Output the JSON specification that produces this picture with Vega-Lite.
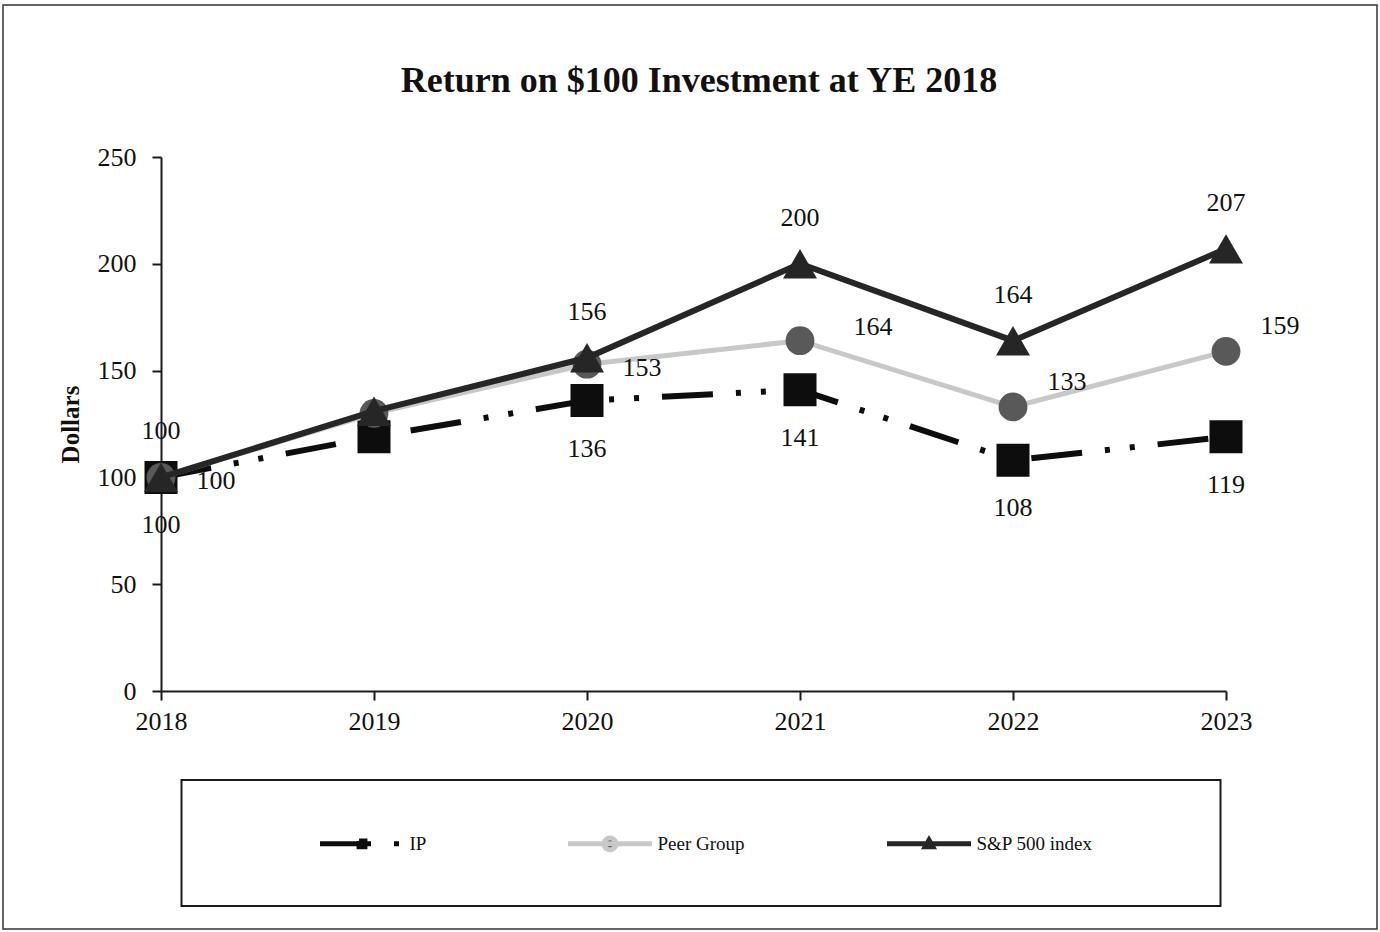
{
  "$schema": "https://vega.github.io/schema/vega-lite/v6.json",
  "width": 1374,
  "height": 924,
  "autosize": {"type": "none"},
  "padding": {"left": 3, "top": 5, "right": 3, "bottom": 3},
  "background": "white",
  "title": {
    "text": "Return on $100 Investment at YE 2018",
    "font": "Liberation Serif",
    "fontSize": 36,
    "fontWeight": "bold",
    "color": "#111111",
    "anchor": "middle",
    "frame": "group",
    "dx": 9,
    "offset": -123,
    "baseline": "alphabetic"
  },
  "config": {
    "view": {"stroke": "#333333", "strokeWidth": 1.5},
    "axis": {
      "grid": false,
      "domainColor": "#1a1a1a",
      "domainWidth": 2,
      "tickColor": "#1a1a1a",
      "tickWidth": 2,
      "tickSize": 9,
      "labelFont": "Liberation Serif",
      "labelFontSize": 26,
      "labelColor": "#111111"
    }
  },
  "data": {
    "values": [
      {"series": "IP", "year": 2018, "value": 100},
      {"series": "IP", "year": 2019, "value": 119},
      {"series": "IP", "year": 2020, "value": 136},
      {"series": "IP", "year": 2021, "value": 141},
      {"series": "IP", "year": 2022, "value": 108},
      {"series": "IP", "year": 2023, "value": 119},
      {"series": "Peer Group", "year": 2018, "value": 100},
      {"series": "Peer Group", "year": 2019, "value": 130},
      {"series": "Peer Group", "year": 2020, "value": 153},
      {"series": "Peer Group", "year": 2021, "value": 164},
      {"series": "Peer Group", "year": 2022, "value": 133},
      {"series": "Peer Group", "year": 2023, "value": 159},
      {"series": "S&P 500 index", "year": 2018, "value": 100},
      {"series": "S&P 500 index", "year": 2019, "value": 131},
      {"series": "S&P 500 index", "year": 2020, "value": 156},
      {"series": "S&P 500 index", "year": 2021, "value": 200},
      {"series": "S&P 500 index", "year": 2022, "value": 164},
      {"series": "S&P 500 index", "year": 2023, "value": 207}
    ]
  },
  "encoding": {
    "x": {
      "field": "year",
      "type": "ordinal",
      "scale": {"type": "point", "padding": 0, "range": [158, 1223]},
      "axis": {"orient": "bottom", "offset": -238, "title": null, "labelAngle": 0, "labelPadding": 8}
    },
    "y": {
      "field": "value",
      "type": "quantitative",
      "scale": {"domain": [0, 250], "range": [686, 152], "nice": false},
      "axis": {
        "orient": "left",
        "offset": -158,
        "values": [0, 50, 100, 150, 200, 250],
        "labelPadding": 16,
        "title": "Dollars",
        "titleFont": "Liberation Serif",
        "titleFontSize": 25,
        "titleFontWeight": "bold",
        "titleColor": "#111111",
        "titlePadding": 14
      }
    }
  },
  "layer": [
    {
      "transform": [{"filter": "datum.series == 'IP'"}],
      "mark": {"type": "line", "strokeWidth": 6, "strokeDash": [51, 23, 5, 20, 5, 23]},
      "encoding": {
        "stroke": {
          "field": "series",
          "type": "nominal",
          "scale": {"domain": ["IP", "Peer Group", "S&P 500 index"], "range": ["#0d0d0d", "#c8c8c8", "#262626"]},
          "legend": {
            "orient": "none",
            "legendX": 178.5,
            "legendY": 775,
            "direction": "horizontal",
            "title": null,
            "padding": 19,
            "strokeColor": "#1a1a1a",
            "columnPadding": 22,
            "labelFont": "Liberation Serif",
            "labelFontSize": 19,
            "labelColor": "#111111",
            "symbolOffset": 117,
            "labelOffset": 3,
            "symbolSize": 7056,
            "symbolStrokeWidth": 5,
            "encode": {
              "legend": {"update": {"strokeWidth": {"value": 2}}},
              "symbols": {
                "update": {
                  "shape": {"signal": "datum.value == 'IP' ? 'M0,0.78M-1,0L1,0M-0.07,-0.07L0.07,-0.07L0.07,0.07L-0.07,0.07Z' : datum.value == 'Peer Group' ? 'M0,0.78M-1,0L1,0M-0.14,0A0.14,0.14 0 1,0 0.14,0A0.14,0.14 0 1,0 -0.14,0Z' : 'M6.24,0M0,0.78M-1,0L1,0M0,-0.09L0.09,0.07L-0.09,0.07Z'"},
                  "fill": {"signal": "datum.value == 'Peer Group' ? '#4a4a4a' : '#111111'"},
                  "strokeDash": {"signal": "datum.value == 'IP' ? [51,23,5,20,5,23] : [1,0]"},
                  "strokeWidth": {"value": 5},
                  "opacity": {"value": 1}
                }
              }
            }
          }
        }
      }
    },
    {
      "transform": [{"filter": "datum.series == 'IP'"}],
      "mark": {"type": "point", "shape": "square", "filled": true, "size": 1089, "color": "#0d0d0d", "opacity": 1}
    },
    {
      "transform": [{"filter": "datum.series == 'Peer Group'"}],
      "mark": {"type": "line", "strokeWidth": 5},
      "encoding": {"stroke": {"field": "series", "type": "nominal"}}
    },
    {
      "transform": [{"filter": "datum.series == 'Peer Group'"}],
      "mark": {"type": "point", "shape": "circle", "filled": true, "size": 830, "color": "#595959", "opacity": 1}
    },
    {
      "transform": [{"filter": "datum.series == 'S&P 500 index'"}],
      "mark": {"type": "line", "strokeWidth": 6},
      "encoding": {"stroke": {"field": "series", "type": "nominal"}}
    },
    {
      "transform": [{"filter": "datum.series == 'S&P 500 index'"}],
      "mark": {"type": "point", "shape": "triangle-up", "filled": true, "size": 1156, "color": "#262626", "opacity": 1}
    },
    {
      "transform": [{"filter": "datum.series == 'IP' && datum.year != 2019"}],
      "mark": {"type": "text", "font": "Liberation Serif", "fontSize": 26, "color": "#111111", "align": "center", "baseline": "middle", "dy": 48},
      "encoding": {"text": {"field": "value", "type": "quantitative"}}
    },
    {
      "transform": [{"filter": "datum.series == 'S&P 500 index' && datum.year != 2019"}],
      "mark": {"type": "text", "font": "Liberation Serif", "fontSize": 26, "color": "#111111", "align": "center", "baseline": "middle", "dy": -46},
      "encoding": {"text": {"field": "value", "type": "quantitative"}}
    },
    {
      "transform": [{"filter": "datum.series == 'Peer Group' && (datum.year == 2018 || datum.year == 2020)"}],
      "mark": {"type": "text", "font": "Liberation Serif", "fontSize": 26, "color": "#111111", "align": "center", "baseline": "middle", "dx": 55, "dy": 4},
      "encoding": {"text": {"field": "value", "type": "quantitative"}}
    },
    {
      "transform": [{"filter": "datum.series == 'Peer Group' && datum.year == 2021"}],
      "mark": {"type": "text", "font": "Liberation Serif", "fontSize": 26, "color": "#111111", "align": "center", "baseline": "middle", "dx": 73, "dy": -14},
      "encoding": {"text": {"field": "value", "type": "quantitative"}}
    },
    {
      "transform": [{"filter": "datum.series == 'Peer Group' && datum.year >= 2022"}],
      "mark": {"type": "text", "font": "Liberation Serif", "fontSize": 26, "color": "#111111", "align": "center", "baseline": "middle", "dx": 54, "dy": -25},
      "encoding": {"text": {"field": "value", "type": "quantitative"}}
    }
  ]
}
